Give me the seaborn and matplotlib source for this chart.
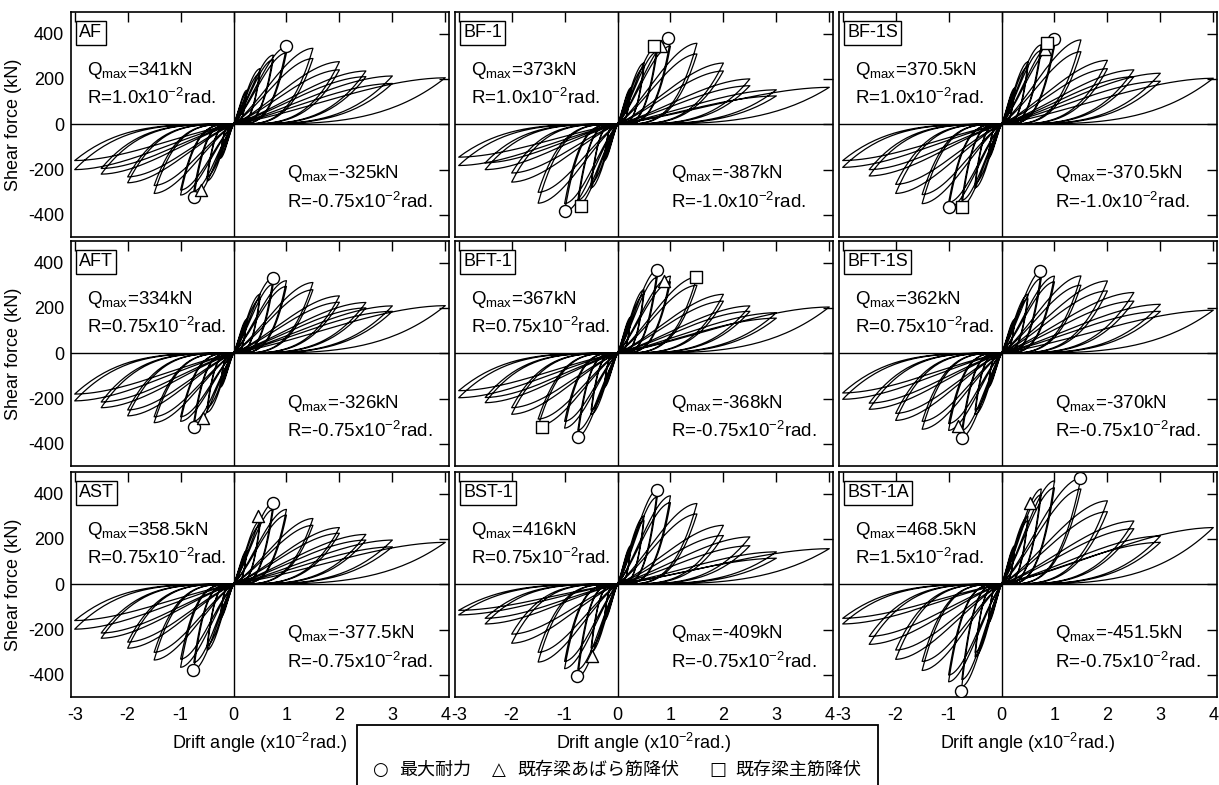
import numpy as np
import pandas as pd
import matplotlib
matplotlib.use("Agg")
import matplotlib.pyplot as plt
from matplotlib.patches import Rectangle
import seaborn as sns

# ---------------- data ----------------
AMPS = [0.25, 0.5, 0.75, 1.0, 1.5, 2.0, 2.5, 3.0]   # cyclic drift amplitudes (x10^-2 rad)
FINAL_AMP = 4.0

NAMES = ["AF", "BF-1", "BF-1S", "AFT", "BFT-1", "BFT-1S", "AST", "BST-1", "BST-1A"]

# first / second cycle peak shear forces (kN) at each amplitude
POS1 = {
    "AF":     [150, 245, 305, 341, 335, 276, 235, 213],
    "BF-1":   [160, 270, 347, 373, 357, 270, 200, 152],
    "BF-1S":  [160, 275, 350, 371, 372, 282, 240, 225],
    "AFT":    [150, 260, 334, 320, 312, 253, 224, 209],
    "BFT-1":  [160, 280, 367, 340, 337, 260, 209, 179],
    "BFT-1S": [150, 260, 362, 340, 341, 319, 268, 216],
    "AST":    [150, 280, 358, 330, 290, 250, 220, 195],
    "BST-1":  [170, 300, 416, 390, 356, 260, 209, 143],
    "BST-1A": [170, 300, 420, 456, 468, 368, 279, 213],
}
POS2 = {
    "AF":     [140, 225, 285, 315, 290, 240, 210, 180],
    "BF-1":   [150, 250, 320, 345, 310, 235, 170, 125],
    "BF-1S":  [150, 255, 325, 345, 320, 245, 210, 190],
    "AFT":    [140, 240, 305, 295, 280, 225, 200, 185],
    "BFT-1":  [150, 260, 335, 315, 300, 230, 185, 155],
    "BFT-1S": [140, 240, 330, 315, 300, 275, 230, 185],
    "AST":    [140, 260, 330, 305, 260, 225, 195, 165],
    "BST-1":  [160, 280, 385, 360, 310, 215, 170, 115],
    "BST-1A": [160, 280, 395, 425, 420, 320, 245, 185],
}
NEG1 = {
    "AF":     [-150, -250, -325, -312, -305, -258, -220, -200],
    "BF-1":   [-160, -280, -360, -387, -348, -255, -200, -182],
    "BF-1S":  [-150, -280, -360, -370, -350, -305, -228, -190],
    "AFT":    [-150, -260, -326, -300, -306, -276, -240, -210],
    "BFT-1":  [-150, -270, -368, -330, -322, -269, -218, -196],
    "BFT-1S": [-150, -270, -370, -340, -335, -296, -247, -203],
    "AST":    [-150, -290, -377, -366, -334, -282, -238, -198],
    "BST-1":  [-160, -300, -409, -372, -343, -260, -175, -135],
    "BST-1A": [-170, -320, -451, -430, -380, -331, -265, -175],
}
NEG2 = {
    "AF":     [-140, -230, -295, -290, -270, -232, -195, -160],
    "BF-1":   [-150, -260, -335, -350, -300, -215, -170, -145],
    "BF-1S":  [-140, -260, -335, -345, -310, -265, -200, -160],
    "AFT":    [-140, -240, -300, -280, -280, -250, -215, -180],
    "BFT-1":  [-140, -250, -340, -300, -290, -240, -195, -165],
    "BFT-1S": [-140, -250, -340, -310, -300, -265, -220, -175],
    "AST":    [-140, -270, -345, -330, -300, -255, -215, -160],
    "BST-1":  [-150, -280, -375, -340, -300, -220, -150, -115],
    "BST-1A": [-160, -300, -420, -400, -340, -290, -230, -150],
}
FINAL_PEAK = {"AF": 205, "BF-1": 163, "BF-1S": 203, "AFT": 210, "BFT-1": 204,
              "BFT-1S": 190, "AST": 185, "BST-1": 157, "BST-1A": 250}

# event markers: (drift, force)
CIRCLES = {
    "AF": [(1.0, 343), (-0.75, -322)],
    "BF-1": [(0.96, 380), (-1.0, -381)],
    "BF-1S": [(0.99, 378), (-1.0, -366)],
    "AFT": [(0.74, 334), (-0.75, -325)],
    "BFT-1": [(0.74, 368), (-0.75, -368)],
    "BFT-1S": [(0.72, 363), (-0.75, -373)],
    "AST": [(0.74, 358), (-0.77, -377)],
    "BST-1": [(0.74, 415), (-0.77, -406)],
    "BST-1A": [(1.48, 470), (-0.77, -470)],
}
TRIANGLES = {
    "AF": [(-0.62, -290)],
    "BF-1": [(0.82, 347)],
    "BF-1S": [(0.82, 333)],
    "AFT": [(-0.58, -284)],
    "BFT-1": [(0.87, 319)],
    "BFT-1S": [(-0.82, -320)],
    "AST": [(0.47, 300)],
    "BST-1": [(-0.48, -318)],
    "BST-1A": [(0.53, 360)],
}
SQUARES = {
    "BF-1": [(0.68, 347), (-0.69, -359)],
    "BF-1S": [(0.86, 357), (-0.74, -363)],
    "BFT-1": [(1.48, 337), (-1.42, -324)],
}

QMAX_POS = {"AF": "341", "BF-1": "373", "BF-1S": "370.5", "AFT": "334", "BFT-1": "367",
            "BFT-1S": "362", "AST": "358.5", "BST-1": "416", "BST-1A": "468.5"}
R_POS = {"AF": "1.0", "BF-1": "1.0", "BF-1S": "1.0", "AFT": "0.75", "BFT-1": "0.75",
         "BFT-1S": "0.75", "AST": "0.75", "BST-1": "0.75", "BST-1A": "1.5"}
QMAX_NEG = {"AF": "-325", "BF-1": "-387", "BF-1S": "-370.5", "AFT": "-326", "BFT-1": "-368",
            "BFT-1S": "-370", "AST": "-377.5", "BST-1": "-409", "BST-1A": "-451.5"}
R_NEG = {"AF": "-0.75", "BF-1": "-1.0", "BF-1S": "-1.0", "AFT": "-0.75", "BFT-1": "-0.75",
         "BFT-1S": "-0.75", "AST": "-0.75", "BST-1": "-0.75", "BST-1A": "-0.75"}

XTICKS = [-3, -2, -1, 0, 1, 2, 3, 4]
YTICKS = [-400, -200, 0, 200, 400]
LEGEND_SYMBOLS = ["○", "△", "□"]
LEGEND_LABELS = ["最大耐力", "既存梁あばら筋降伏", "既存梁主筋降伏"]


# ---------------- hysteresis path through the read peaks ----------------
def hysteresis(name):
    t = np.linspace(0, 1, 50)
    up = 0.5 * (1 - (1 - t) ** 1.6) + 0.5 * (3 * t**2 - 2 * t**3)   # loading branch
    down = t ** 3.6                                                # unloading branch
    xs, ys = [], []

    def half(A, P, sign):
        xs.extend(sign * A * t); ys.extend(P * up)
        xs.extend(sign * A * t[::-1]); ys.extend(P * down[::-1])

    for A, p1, p2, n1, n2 in zip(AMPS, POS1[name], POS2[name], NEG1[name], NEG2[name]):
        for P, N in ((p1, n1), (p2, n2)):
            half(A, P, 1)
            half(A, N, -1)
    half(FINAL_AMP, FINAL_PEAK[name], 1)
    return pd.DataFrame({"x": xs, "y": ys})


# ---------------- figure ----------------
sns.set_style("white")
plt.rcParams["font.family"] = ["Liberation Sans", "Noto Sans CJK JP", "DejaVu Sans"]
plt.rcParams["mathtext.default"] = "regular"
plt.rcParams["axes.unicode_minus"] = False
plt.rcParams["text.color"] = "black"
plt.rcParams["axes.labelcolor"] = "black"
plt.rcParams["xtick.color"] = "black"
plt.rcParams["ytick.color"] = "black"

W, H = 1219, 785
fig = plt.figure(figsize=(W / 100, H / 100), dpi=100)

col_left = [71, 455, 839]
row_top = [12, 241, 472]
aw, ah = 378, 225

for k, name in enumerate(NAMES):
    r, c = divmod(k, 3)
    ax = fig.add_axes([col_left[c] / W, 1 - (row_top[r] + ah) / H, aw / W, ah / H])
    ax.axhline(0, color="black", lw=1.0, zorder=1)
    ax.axvline(0, color="black", lw=1.0, zorder=1)
    df = hysteresis(name)
    sns.lineplot(data=df, x="x", y="y", sort=False, estimator=None, color="black",
                 lw=0.9, ax=ax, zorder=2)
    for pts, mk in ((CIRCLES.get(name, []), "o"), (TRIANGLES.get(name, []), "^"),
                    (SQUARES.get(name, []), "s")):
        if pts:
            mdf = pd.DataFrame(pts, columns=["x", "y"])
            sns.scatterplot(data=mdf, x="x", y="y", marker=mk, s=75, facecolor="white",
                            edgecolor="black", linewidth=1.0, ax=ax, zorder=4)
    ax.set_xlim(-3.07, 4.07)
    ax.set_ylim(-497, 495)
    ax.set_xticks(XTICKS)
    ax.set_yticks(YTICKS)
    ax.tick_params(direction="in", length=7.5, width=1, top=True, right=True,
                   labelsize=13, colors="black", pad=7,
                   labelbottom=(r == 2), labelleft=(c == 0))
    ax.tick_params(axis="y", pad=5)
    for sp in ax.spines.values():
        sp.set_color("black"); sp.set_linewidth(1.2)
    ax.set_xlabel("Drift angle (x10$^{-2}$rad.)" if r == 2 else "", fontsize=13, labelpad=5)
    ax.set_ylabel("Shear force (kN)" if c == 0 else "", fontsize=13, labelpad=4)

    ax.text(0.022, 0.945, name, transform=ax.transAxes, ha="left", va="top", fontsize=13,
            bbox=dict(boxstyle="square,pad=0.18", fc="white", ec="black", lw=1.0), zorder=5)
    ax.text(0.042, 0.72, "Q$_{max}$=" + QMAX_POS[name] + "kN", transform=ax.transAxes,
            ha="left", va="baseline", fontsize=13.5, zorder=5)
    ax.text(0.042, 0.59, "R=" + R_POS[name] + "x10$^{-2}$rad.", transform=ax.transAxes,
            ha="left", va="baseline", fontsize=13.5, zorder=5)
    ax.text(0.572, 0.26, "Q$_{max}$=" + QMAX_NEG[name] + "kN", transform=ax.transAxes,
            ha="left", va="baseline", fontsize=13.5, zorder=5)
    ax.text(0.572, 0.13, "R=" + R_NEG[name] + "x10$^{-2}$rad.", transform=ax.transAxes,
            ha="left", va="baseline", fontsize=13.5, zorder=5)

# legend box (cut by the lower edge of the figure)
fig.patches.append(Rectangle((357 / W, -0.05), (878 - 357) / W, 0.05 + 1 - 725 / H,
                             transform=fig.transFigure, fill=False, ec="black", lw=1.3))
for sym, lab, xs_, xl in zip(LEGEND_SYMBOLS, LEGEND_LABELS, [372, 492, 709], [399, 517, 735]):
    fig.text(xs_ / W, 1 - 770 / H, sym, ha="left", va="center", fontsize=13,
             family=["DejaVu Sans"])
    fig.text(xl / W, 1 - 770 / H, lab, ha="left", va="center", fontsize=13,
             family=["Noto Sans CJK JP", "DejaVu Sans"])

fig.savefig("out.png", dpi=100)
